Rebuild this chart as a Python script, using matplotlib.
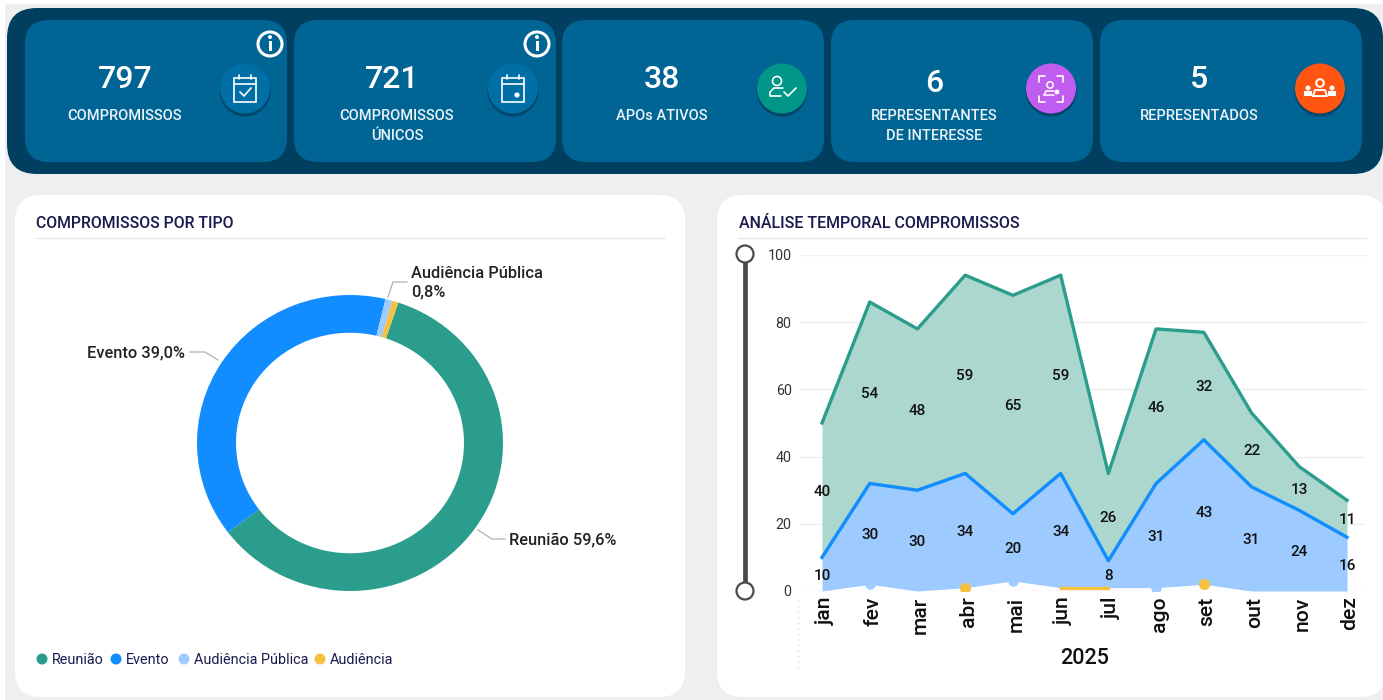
import matplotlib
matplotlib.use("AGG")  # NOQA
import matplotlib.pyplot as plt
import numpy as np
from matplotlib.patches import Circle, FancyBboxPatch, Rectangle
from matplotlib.transforms import ScaledTranslation

plt.rcParams["font.family"] = ["Roboto", "DejaVu Sans"]

# kpi cards
kpi_values = ["797", "721", "38", "6", "5"]
kpi_labels = ["COMPROMISSOS", "COMPROMISSOS\nÚNICOS", "APOs ATIVOS",
              "REPRESENTANTES\nDE INTERESSE", "REPRESENTADOS"]
kpi_colors = ["#006FA6", "#006FA6", "#009688", "#C05CF0", "#FF5412"]

# monthly counts
months = ["jan", "fev", "mar", "abr", "mai", "jun", "jul", "ago", "set", "out", "nov", "dez"]
reuniao = [40, 54, 48, 59, 65, 59, 26, 46, 32, 22, 13, 11]
evento = [10, 30, 30, 34, 20, 34, 8, 31, 43, 31, 24, 16]
aud_publica = [0, 2, 0, 0, 3, 0, 0, 1, 0, 0, 0, 0]
audiencia = [0, 0, 0, 1, 0, 1, 1, 0, 2, 0, 0, 0]

# donut
tipos = ["Reunião", "Evento", "Audiência Pública", "Audiência"]
tipo_totais = [475, 311, 6, 5]

TEAL = "#2A9D8C"
BLUE = "#118DFF"
LIGHT = "#A0CBFF"
YELLOW = "#F5C13F"
NAVY = "#1A1A4E"
W, H = 1383, 700


def axes_px(fig, x0, y0, x1, y1, **kwargs):
    return fig.add_axes([x0 / W, 1 - y1 / H, (x1 - x0) / W, (y1 - y0) / H], **kwargs)


def rbox(ax, x0, y0, x1, y1, r, color, z=1):
    ax.add_patch(FancyBboxPatch((x0 + r, y0 + r), x1 - x0 - 2 * r, y1 - y0 - 2 * r,
                                boxstyle="round,pad=%d,rounding_size=%d" % (r, r),
                                fc=color, ec="none", zorder=z))


def icon_line(ax, xs, ys, lw=1.2):
    ax.plot(xs, ys, color="white", lw=lw, zorder=6, solid_capstyle="round")


def draw_icon(ax, i, cx, cy):
    if i < 2:
        ax.add_patch(Rectangle((cx - 11, cy - 11), 22, 24, fc="none", ec="white", lw=1.2, zorder=6))
        icon_line(ax, [cx - 11, cx + 11], [cy - 5, cy - 5])
        icon_line(ax, [cx - 6, cx - 6], [cy - 14, cy - 10])
        icon_line(ax, [cx + 6, cx + 6], [cy - 14, cy - 10])
        if i == 0:
            icon_line(ax, [cx - 5, cx - 1, cx + 6], [cy + 3, cy + 7, cy - 1])
        else:
            ax.add_patch(Circle((cx + 4, cy + 6), 2.6, fc="white", ec="none", zorder=6))
    elif i == 2:
        ax.add_patch(Circle((cx - 5, cy - 8), 4.5, fc="none", ec="white", lw=1.2, zorder=6))
        icon_line(ax, [cx + 1, cx - 8, cx - 12, cx - 12, cx - 1], [cy - 1, cy - 1, cy + 3, cy + 7, cy + 7])
        icon_line(ax, [cx + 2, cx + 6, cx + 14], [cy + 3, cy + 7, cy - 1])
    elif i == 3:
        for sx in (-1, 1):
            for sy in (-1, 1):
                icon_line(ax, [cx + sx * 6, cx + sx * 12, cx + sx * 12], [cy + sy * 13, cy + sy * 13, cy + sy * 7])
        ax.add_patch(Circle((cx - 1, cy - 4), 3.2, fc="none", ec="white", lw=1.1, zorder=6))
        icon_line(ax, [cx - 7, cx - 5, cx + 3], [cy + 6, cy + 2, cy + 2], lw=1.1)
        icon_line(ax, [cx - 7, cx + 3], [cy + 6, cy + 6], lw=1.1)
        ax.add_patch(Circle((cx + 6, cy + 3), 2.4, fc="white", ec="none", zorder=6))
    else:
        ax.add_patch(Circle((cx, cy - 6), 3.8, fc="none", ec="white", lw=1.4, zorder=6))
        icon_line(ax, [cx - 7, cx - 5, cx + 5, cx + 7, cx - 7], [cy + 7, cy + 1, cy + 1, cy + 7, cy + 7], lw=1.4)
        for sx in (-1, 1):
            ax.add_patch(Circle((cx + sx * 12, cy - 1), 2.5, fc="white", ec="none", zorder=6))
            ax.add_patch(Rectangle((cx + sx * 12 - 4, cy + 2), 8, 5, fc="white", ec="none", zorder=6))


fig = plt.figure(figsize=(W / 100, H / 100), dpi=100, facecolor="white")

# page furniture, in pixels
bg = axes_px(fig, 0, 0, W, H)
bg.set_xlim(0, W)
bg.set_ylim(H, 0)
bg.axis("off")

bg.add_patch(Rectangle((5, 4), W, H, fc="#EFEFEF", ec="none", zorder=0))
rbox(bg, 7, 8, 1383, 174, 30, "#003F5F")
card_x = [25, 294, 562, 831, 1100]
text_cx = [125, 392, 662, 934, 1199]
label_cx = [125, 397, 662, 934, 1199]
value_y = [80, 80, 80, 84, 80]
for i, x in enumerate(card_x):
    rbox(bg, x, 20, x + 262, 162, 24, "#006494", z=2)
    bg.text(text_cx[i], value_y[i], kpi_values[i], color="white", fontsize=23, fontweight="medium",
            ha="center", va="center", zorder=5)
    for j, line in enumerate(kpi_labels[i].split("\n")):
        bg.text(label_cx[i], 116 + j * 20, line, color="#EAF3F8", fontsize=10.5, fontweight="medium",
                ha="center", va="center", zorder=5)
    cx = x + 220 - (1 if i == 1 else 0)
    bg.add_patch(Circle((cx, 91), 25.5, fc="#00466A", ec="none", zorder=3))
    bg.add_patch(Circle((cx, 88.5), 25, fc=kpi_colors[i], ec="none", zorder=4))
    draw_icon(bg, i, cx, 89)
for cx in (270, 537):
    bg.add_patch(Circle((cx, 44), 12, fc="none", ec="white", lw=2.2, zorder=5))
    bg.add_patch(Rectangle((cx - 1.5, 41), 3.5, 10, fc="white", ec="none", zorder=5))
    bg.add_patch(Circle((cx, 37), 2, fc="white", ec="none", zorder=5))

rbox(bg, 15, 195, 685, 697, 26, "white")
rbox(bg, 717, 195, 1386, 697, 26, "white")
bg.text(36, 224, "COMPROMISSOS POR TIPO", color=NAVY, fontsize=11.3, fontweight="medium", va="center")
bg.text(739, 224, "ANÁLISE TEMPORAL COMPROMISSOS", color=NAVY, fontsize=11.55, fontweight="medium", va="center")
bg.plot([36, 664], [237.5, 237.5], color="#E6E6E6", lw=1)
bg.plot([739, 1366], [237.5, 237.5], color="#E6E6E6", lw=1)

# slicer
bg.plot([745, 745], [254, 591], color="#4A4A4A", lw=3.4, zorder=3)
for y in (254, 591):
    bg.add_patch(Circle((745, y), 8.5, fc="white", ec="#4A4A4A", lw=1.6, zorder=4))
bg.plot([798, 798], [600, 668], color="#D8D8D8", lw=1, ls=(0, (1, 3)))

# donut
pie_ax = axes_px(fig, 197, 295, 503, 591)
pie_ax.pie(tipo_totais, colors=[TEAL, BLUE, LIGHT, YELLOW], startangle=90 - 18.4, counterclock=False,
           radius=1, wedgeprops={"width": 0.255, "linewidth": 0})
pie_ax.set_aspect("auto")
pie_ax.set_xlim(-1, 1)
pie_ax.set_ylim(-1, 1)

pct = [("%.1f" % (100 * v / sum(tipo_totais))).replace(".", ",") + "%" for v in tipo_totais]
label_kw = dict(color="#222222", fontsize=11.8, fontweight="medium", va="center")
bg.text(87, 353, tipos[1] + " " + pct[1], **label_kw)
bg.text(509, 540, tipos[0] + " " + pct[0], **label_kw)
bg.text(411, 274, tipos[2], **label_kw)
bg.text(411, 292, pct[2], **label_kw)
for xs, ys in (([190, 205, 218], [352, 352, 360]),
               ([478, 492, 505], [530, 539, 539]),
               ([388, 393, 407], [297, 282, 282])):
    bg.plot(xs, ys, color="#B0B0B0", lw=0.9)

leg_x = [42, 116, 184, 320]
for x, name, c in zip(leg_x, tipos, [TEAL, BLUE, LIGHT, YELLOW]):
    bg.add_patch(Circle((x, 659), 5.5, fc=c, ec="none"))
    bg.text(x + 10, 660, name, color=NAVY, fontsize=10.4, va="center")

# temporal chart
ax = axes_px(fig, 800, 255, 1366, 591)
ax.patch.set_alpha(0)
x = np.arange(len(months))
base = np.array(audiencia) + np.array(aud_publica)
top_ev = base + np.array(evento)
top_re = top_ev + np.array(reuniao)

ax.fill_between(x, top_ev, top_re, color="#ABD7CF", lw=0, zorder=2)
ax.fill_between(x, base, top_ev, color="#9DCAFF", lw=0, zorder=2)
ax.plot(x, top_re, color=TEAL, lw=2.4, zorder=3)
ax.plot(x, top_ev, color=BLUE, lw=2.4, zorder=3)

for i in x:
    if aud_publica[i]:
        ax.plot(i, base[i], "o", color=LIGHT, ms=7.5, mew=0, zorder=1.5)
    if audiencia[i] and not (months[i] in ("jun", "jul")):
        ax.plot(i, base[i], "o", color=YELLOW, ms=8, mew=0, zorder=4)
ax.plot([5, 6], [audiencia[5], audiencia[6]], color=YELLOW, lw=2.4, zorder=4)

for i in x:
    ax.annotate(str(reuniao[i]), (i, top_ev[i] + reuniao[i] / 2), xytext=(0, -1), textcoords="offset points",
                ha="center", va="center", fontsize=11, fontweight="medium", color="#111111", zorder=5)
    ax.annotate(str(evento[i]), (i, base[i] + evento[i] / 2), xytext=(0, -1), textcoords="offset points",
                ha="center", va="center", fontsize=11, fontweight="medium", color="#111111", zorder=5)

ax.set_xlim(-22 / 47.73, 11 + 19 / 47.73)
ax.set_ylim(0, 100)
ax.set_yticks([0, 20, 40, 60, 80, 100])
ax.set_xticks(x)
ax.set_xticklabels(months, rotation=90, fontsize=15.2, fontweight="medium", color="#111111")
ax.tick_params(axis="x", length=0, pad=4)
ax.tick_params(axis="y", length=0, pad=6, labelsize=10.3, labelcolor="#333333")
shift = ScaledTranslation(3 / 100, 0, fig.dpi_scale_trans)
for t in ax.get_xticklabels():
    t.set_transform(t.get_transform() + shift)
ax.grid(axis="y", color="#EFEFEF", lw=1, zorder=1)
for s in ax.spines.values():
    s.set_visible(False)

bg.text(1085, 658, "2025", color="#111111", fontsize=15.5, fontweight="medium", ha="center", va="center")

fig.savefig("out.png", dpi=100)
